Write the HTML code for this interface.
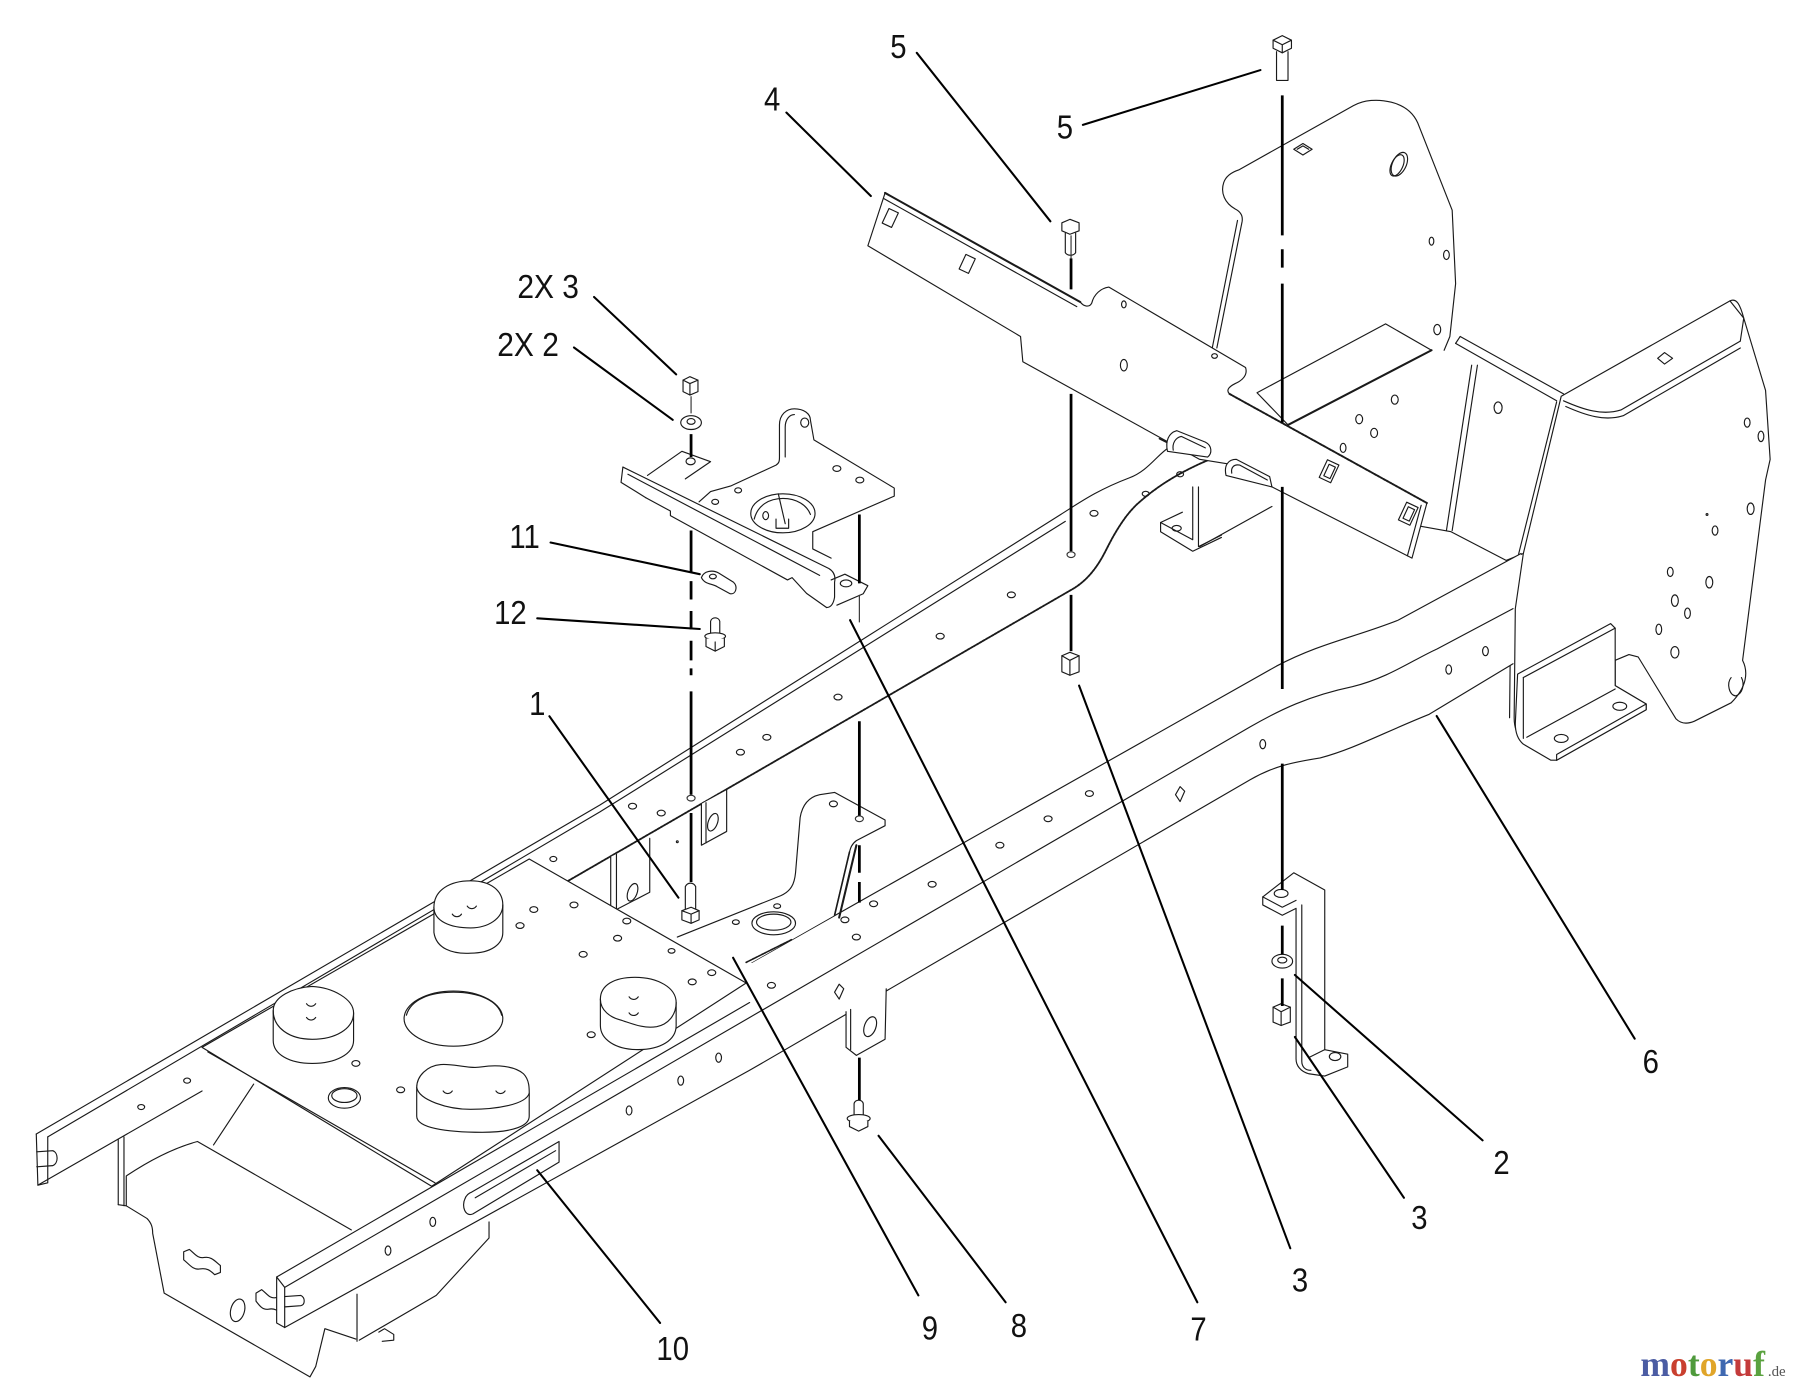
<!DOCTYPE html>
<html><head><meta charset="utf-8"><style>
html,body{margin:0;padding:0;background:#fff;}
svg{display:block;}
.lb{font-family:"Liberation Sans",Arial,sans-serif;font-size:29px;fill:#111;stroke:none;}
</style></head><body>
<svg width="1800" height="1393" viewBox="0 0 1568 1213" preserveAspectRatio="none" xmlns="http://www.w3.org/2000/svg">
<rect x="0" y="0" width="1568" height="1213" fill="#fff"/>
<g fill="none" stroke="#1a1a1a" stroke-width="1" stroke-linejoin="round" stroke-linecap="round">

<!-- back panel -->
<path fill="#fff" d="M1060,303 L1082,193 C1083,187 1080,184 1076,182 C1067,177 1063,168 1066,159 C1068,153 1073,150 1079,148 L1179,92 C1188,87 1200,86 1212,89 C1224,92 1231,98 1235,107 L1265,183 L1268,247 L1263,293 L1258,305 L1247,305 L1207,282 L1095,342 Z" stroke="none"/>
<path d="M1060,303 L1082,193 C1083,187 1080,184 1076,182 C1067,177 1063,168 1066,159 C1068,153 1073,150 1079,148 L1179,92 C1188,87 1200,86 1212,89 C1224,92 1231,98 1235,107 L1265,183 L1268,247 L1263,293 L1258,305"/>
<path d="M1056,303 L1078,192"/>
<path d="M1127,130 L1135,125 L1143,130 L1135,135 Z"/>
<path d="M1130,130 L1135,127 L1140,130"/>
<ellipse cx="1219" cy="143" rx="6" ry="11" transform="rotate(25 1219 143)"/>
<ellipse cx="1217" cy="144" rx="5" ry="10" transform="rotate(25 1217 144)"/>
<ellipse cx="1247" cy="210" rx="2" ry="3.5"/>
<ellipse cx="1260" cy="222" rx="2.5" ry="4"/>
<ellipse cx="1252" cy="287" rx="3" ry="4.5"/>

<!-- shelf -->
<path fill="#fff" d="M1207,282 L1247,305 L1122,370 L1095,342 Z"/>
<path d="M1247,305 L1122,370" stroke-width="1.8"/>
<ellipse cx="1215" cy="348" rx="3" ry="4"/>
<ellipse cx="1184" cy="365" rx="3" ry="4"/>
<ellipse cx="1197" cy="377" rx="3" ry="4"/>

<!-- middle plate -->
<path fill="#fff" d="M1272,293 L1362,343 L1358,350 L1288,318 L1266,462 L1260,462 L1282,318 L1268,299 Z" stroke="none"/>
<path d="M1272,293 L1362,343"/>
<path d="M1268,299 L1356,349"/>
<path d="M1272,293 L1268,299"/>
<path d="M1287,318 L1265,462"/>
<path d="M1282,318 L1260,462"/>
<ellipse cx="1305" cy="355" rx="3.5" ry="5"/>

<!-- right panel (6) -->
<path fill="#fff" d="M1360,345 L1507,262 C1513,259 1516,266 1519,277 L1538,340 L1542,400 L1538,418 L1518,575 C1523,585 1522,598 1508,612 L1476,628 C1469,631 1464,630 1460,626 L1427,572 L1419,570 L1407,575 L1407,597 L1434,613 L1434,618 L1356,662 L1327,645 C1321,640 1319,632 1319,625 L1320,530 L1327,482 Z"/>
<path d="M1356,350 L1323,482 L1316,530 L1315,625"/>
<path d="M1507,262 L1519,277 L1516,297"/>
<path d="M1362,349 C1380,357 1396,362 1412,357 L1516,297"/>
<path d="M1364,354 C1382,362 1398,367 1414,362 L1516,303"/>
<path d="M1444,312 L1450,307 L1457,312 L1450,317 Z"/>
<ellipse cx="1522" cy="368" rx="2.5" ry="4"/>
<ellipse cx="1534" cy="380" rx="2.5" ry="4.5"/>
<ellipse cx="1525" cy="443" rx="3" ry="5"/>
<ellipse cx="1494" cy="462" rx="2.5" ry="4"/>
<circle cx="1487" cy="448" r="0.8"/>
<ellipse cx="1455" cy="498" rx="2.5" ry="4"/>
<ellipse cx="1489" cy="507" rx="3" ry="5"/>
<ellipse cx="1459" cy="523" rx="3" ry="5"/>
<ellipse cx="1470" cy="534" rx="2.5" ry="4.5"/>
<ellipse cx="1445" cy="548" rx="2.5" ry="4.5"/>
<ellipse cx="1459" cy="568" rx="3.5" ry="5"/>
<path d="M1508,590 C1504,595 1506,605 1512,606 C1518,604 1520,596 1517,590"/>

<!-- L bracket on right panel -->
<path fill="#fff" d="M1322,587 L1403,543 L1407,547 L1407,597 L1434,613 L1434,618 L1356,662 L1351,662 L1327,648 C1321,643 1320,636 1320,630 Z"/>
<path d="M1327,590 L1407,547"/>
<path d="M1327,590 L1327,643"/>
<path d="M1330,642 L1407,600"/>
<path d="M1356,662 L1356,657 L1434,613"/>
<ellipse cx="1411" cy="615" rx="6" ry="3.5"/>
<ellipse cx="1360" cy="643" rx="6" ry="3.5"/>

<!-- cross member lines -->
<path d="M1236,458 L1264,463 L1312,488 L1327,482"/>
<path d="M1045,476 L1108,441"/>

<!-- back rail -->
<path fill="#fff" d="M31.6,987.5 L522.6,701 L924,448 C940,438 955,427 984,416 C1000,410 1008,396 1019,389 L1054,400 C1030,410 1010,422 994,436 C984,444 974,458 964,478 C958,490 950,503 936,512 L495,767 L176,950 L33,1032 Z" stroke="none"/>
<path d="M31.6,987.5 L522.6,701 L924,448 C940,438 955,427 984,416 C1000,410 1008,396 1019,389"/>
<path d="M41.6,990 L522.6,707 L928,454"/>
<path d="M33,1032 L176,950"/>
<path d="M495,767 L936,512 C950,503 958,490 964,478 C974,458 984,444 994,436 C1010,422 1030,410 1054,400" stroke-width="1.6" stroke-dasharray="2 1"/>
<path d="M31.6,987.5 L33,1032 L41.6,1030 L41.6,990"/>
<path d="M32,1003 L46,1002 C51,1004 51,1013 46,1015 L32,1016"/>
<g>
<ellipse cx="123" cy="964" rx="3" ry="2.2"/><ellipse cx="163" cy="941" rx="3" ry="2.2"/>
<ellipse cx="482" cy="748" rx="3" ry="2.2"/><ellipse cx="551" cy="702" rx="3.5" ry="2.5"/>
<ellipse cx="576" cy="708" rx="3.5" ry="2.5"/><ellipse cx="645" cy="655" rx="3.5" ry="2.5"/>
<ellipse cx="668" cy="642" rx="3.5" ry="2.5"/><ellipse cx="730" cy="607" rx="3.5" ry="2.5"/>
<ellipse cx="819" cy="554" rx="3.5" ry="2.5"/><ellipse cx="881" cy="518" rx="3.5" ry="2.5"/>
<ellipse cx="953" cy="447" rx="3.5" ry="2.5"/><ellipse cx="998" cy="430" rx="3" ry="2.2"/>
<ellipse cx="1028" cy="413" rx="3" ry="2.2"/>
</g>

<!-- tabs under back rail -->
<path fill="#fff" d="M611,700 L611,736 L633,724 L633,688"/>
<path d="M615,699 L615,734"/>
<ellipse cx="621" cy="716" rx="4" ry="8" transform="rotate(20 621 716)"/>
<path fill="#fff" d="M532,746 L532,789 L537,792 L566,777 L566,730"/>
<path d="M537,744 L537,792"/>
<ellipse cx="551" cy="777" rx="4" ry="8" transform="rotate(20 551 777)"/>
<circle cx="590" cy="733" r="0.8"/>

<!-- left box -->
<path d="M103,992 L103,1049"/>
<path d="M108,990 L108,1050"/>
<path d="M110,1050 L110,1024 C128,1012 150,1000 172,994 L306,1071"/>
<path d="M103,1049 L110,1050 L128,1061 C132,1065 133,1069 133,1074 L143,1126 L270,1199 L275,1190 L283,1157 L310,1166"/>
<path d="M311,1127 L311,1168"/>
<path d="M313,1167 L380,1128 L426,1078 L426,1064"/>
<path d="M186,997 L221,944"/>
<path d="M160,1090 L165,1088 C170,1092 172,1096 178,1095 C184,1094 187,1098 192,1102 L192,1108 L187,1110 C183,1106 180,1104 174,1105 C168,1106 165,1101 160,1097 Z"/>
<path d="M223,1126 L228,1123 C233,1127 235,1131 240,1130 C245,1129 248,1133 251,1137 L251,1143 L246,1145 C242,1141 239,1139 234,1140 C229,1141 226,1137 223,1133 Z"/>
<ellipse cx="207" cy="1141" rx="6" ry="10" transform="rotate(15 207 1141)"/>
<path d="M330,1160 L335,1157 L343,1162 L343,1167 L333,1168"/>

<!-- front rail -->
<path fill="#fff" d="M241,1112 L376,1034 L653,878 L655,838 L1112,580 C1150,560 1180,555 1218,540 L1325,482 L1318,530 L1318,578 L1245,622 C1205,638 1180,652 1150,660 C1125,664 1110,667 1089,679 L248,1156 L241,1152 Z" stroke="none"/>
<path d="M241,1112 L653,873"/>
<path d="M248,1121 L653,886 L1089,633 C1115,618 1140,606 1178,598 C1210,590 1230,575 1252,565 L1318,530"/>
<path d="M248,1156 L653,932 L1089,679 C1110,667 1125,664 1150,660 C1180,652 1205,638 1245,622 L1318,578"/>
<path d="M655,838 L1112,580 C1150,560 1180,555 1218,540 L1325,482"/>
<path d="M241,1112 L241,1152 L248,1156 L248,1121 L241,1112"/>
<path d="M248,1129 L262,1128 C266,1130 266,1136 262,1137 L248,1138"/>
<path d="M411,1038 L487,994 L487,1012 L412,1057 C405,1060 402,1050 405,1044 C406,1041 408,1039 411,1038 Z"/>
<path d="M414,1043 L484,1002"/>
<g>
<ellipse cx="672" cy="858" rx="3.5" ry="2.5"/><ellipse cx="736" cy="801" rx="3.5" ry="2.5"/>
<ellipse cx="746" cy="816" rx="3.5" ry="2.5"/><ellipse cx="761" cy="787" rx="3.5" ry="2.5"/>
<ellipse cx="812" cy="770" rx="3.5" ry="2.5"/><ellipse cx="871" cy="736" rx="3.5" ry="2.5"/>
<ellipse cx="913" cy="713" rx="3.5" ry="2.5"/><ellipse cx="949" cy="691" rx="3.5" ry="2.5"/>
<ellipse cx="338" cy="1089" rx="2.5" ry="4"/><ellipse cx="377" cy="1064" rx="2.5" ry="4"/>
<ellipse cx="548" cy="967" rx="2.5" ry="4"/><ellipse cx="593" cy="941" rx="2.5" ry="4"/>
<ellipse cx="626" cy="921" rx="2.5" ry="4"/><ellipse cx="1100" cy="648" rx="2.5" ry="4"/>
<ellipse cx="1262" cy="583" rx="2.5" ry="4"/><ellipse cx="1294" cy="567" rx="2.5" ry="4"/>
<path d="M727,864 L731,857 L735,861 L731,870 Z"/>
<path d="M1024,692 L1028,685 L1032,689 L1028,698 Z"/>
</g>

<!-- plate 9 area (large plate) -->
<path fill="#fff" d="M176,912 L461,748 L650,856 L376,1033 Z"/>
<path d="M181,916 L379,1030"/>
<g>
<ellipse cx="465" cy="792" rx="3.5" ry="2.5"/><ellipse cx="500" cy="788" rx="3.5" ry="2.5"/>
<ellipse cx="508" cy="831" rx="3.5" ry="2.5"/><ellipse cx="538" cy="817" rx="3.5" ry="2.5"/>
<ellipse cx="546" cy="802" rx="3.5" ry="2.5"/><ellipse cx="603" cy="855" rx="3.5" ry="2.5"/>
<ellipse cx="620" cy="847" rx="3.5" ry="2.5"/><ellipse cx="310" cy="926" rx="3.5" ry="2.5"/>
<ellipse cx="349" cy="949" rx="3.5" ry="2.5"/><ellipse cx="515" cy="901" rx="3.5" ry="2.5"/>
<ellipse cx="453" cy="806" rx="3.5" ry="2.5"/><ellipse cx="585" cy="828" rx="3" ry="2"/>
</g>
<ellipse cx="395" cy="887" rx="43" ry="24"/>
<path d="M354,884 C358,870 375,864 395,864 C418,864 434,872 437,884"/>
<ellipse cx="300" cy="956" rx="14" ry="9"/>
<ellipse cx="300" cy="954" rx="11" ry="6"/>

<!-- bumpers -->
<path fill="#fff" d="M378,790 C378,775 392,767 410,767 C428,767 438,776 438,788 L438,812 C438,822 428,830 410,830 C394,831 380,826 378,812 Z"/>
<path d="M378,790 C378,802 392,808 410,808 C425,808 438,800 438,788"/>
<path d="M394,796 C396,799 400,799 402,796 M407,789 C409,792 413,792 415,789"/>
<path fill="#fff" d="M238,880 C238,868 255,860 272,859 C290,860 308,870 308,882 L308,906 C308,918 292,926 272,926 C252,926 238,918 238,906 Z"/>
<path d="M238,880 C238,895 252,905 272,905 C292,905 308,896 308,882"/>
<path d="M267,874 C269,877 273,877 275,874 M267,886 C269,889 273,889 275,886"/>
<path fill="#fff" d="M363,947 C363,937 372,928 384,927 C395,926 408,931 420,929 C432,927 448,928 456,935 C462,941 461,950 461,958 L461,972 C461,980 448,986 420,986 C388,986 363,982 363,972 Z"/>
<path d="M363,947 C365,958 390,966 410,966 C432,966 458,962 461,952"/>
<path d="M386,950 C388,953 392,953 394,950 M432,950 C434,953 438,953 440,950"/>
<path fill="#fff" d="M523,870 C523,858 535,851 553,851 C573,851 589,860 589,873 L589,893 C589,906 575,914 556,914 C536,914 523,905 523,893 Z"/>
<path d="M523,870 C523,880 532,886 540,888 C550,891 560,896 572,894 C582,892 589,884 589,873"/>
<path d="M548,868 C550,871 554,871 556,868 M548,882 C550,885 554,885 556,882"/>

<!-- mount plate (9) -->
<path fill="#fff" d="M590,816 L680,780 C689,776 692,770 693,760 L697,712 C699,700 705,694 714,692 L727,690 L771,714 L771,719 L746,732 C742,735 741,738 740,742 L727,797 L655,838 Z" stroke="none"/>
<path d="M590,816 L680,780 C689,776 692,770 693,760 L697,712 C699,700 705,694 714,692 L727,690 L771,714 L771,719 L746,732 C742,735 741,738 740,742 L727,797"/>
<path d="M746,736 L731,799" stroke-width="1.8"/>
<path d="M740,742 L727,797" stroke-width="1.4"/>
<ellipse cx="674" cy="804" rx="19" ry="10"/>
<ellipse cx="674" cy="803" rx="15" ry="7"/>
<ellipse cx="726" cy="700" rx="3.5" ry="2.5"/>
<ellipse cx="677" cy="789" rx="3" ry="2"/>
<ellipse cx="641" cy="803" rx="3" ry="2"/>
<path d="M650,838 L690,818" stroke-width="1.4" stroke-dasharray="2 1"/>

<!-- hanging tab under front rail -->
<path fill="#fff" d="M737,881 L737,912 L746,919 L771,905 L772,861"/>
<path d="M741,879 L741,914"/>
<ellipse cx="758" cy="894" rx="5" ry="9" transform="rotate(20 758 894)"/>

<!-- lower bracket (item near 2/3) -->
<path fill="#fff" d="M1100,781 L1127,760 L1154,775 L1154,914 L1174,918 L1174,929 L1154,937 L1140,935 C1133,933 1129,928 1129,922 L1129,791 L1117,797 L1100,788 Z"/>
<path d="M1100,781 L1117,790 L1129,784"/>
<path d="M1134,788 L1134,924 C1134,929 1137,932 1142,932"/>
<path d="M1154,914 L1140,921"/>
<ellipse cx="1116" cy="778" rx="6" ry="3.5"/>
<ellipse cx="1163" cy="920" rx="5" ry="3.5"/>

<!-- small L bracket under bar -->
<path d="M1039,424 L1039,470 L1011,455 L1011,463 L1039,480 L1064,468"/>
<path d="M1044,424 L1044,476 L1064,466"/>
<path d="M1011,455 L1030,446"/>
<ellipse cx="1025" cy="460" rx="4" ry="2.5"/>

<!-- bracket 4 -->
<path fill="#fff" d="M771,168 L941,263 C944,267 949,268 951,264 C953,256 959,251 966,250 L1085,320 C1087,326 1083,331 1076,334 C1070,337 1068,340 1071,343 L1243,438 L1230,486 L1108,424 C1104,416 1096,410 1086,406 L1070,404 L1045,400 L891,315 L889,293 L756,214 Z"/>
<path d="M771,168 L941,263" stroke-width="1.8"/>
<path d="M770,173 L938,267"/>
<path d="M1071,343 L1243,438" stroke-width="1.7" stroke-dasharray="2 1"/>
<path d="M1238,440 L1226,484"/>
<rect x="771" y="183" width="9" height="14" transform="rotate(25 776 190)"/>
<rect x="838" y="223" width="9" height="14" transform="rotate(25 843 230)"/>
<rect x="1152" y="402" width="11" height="17" transform="rotate(25 1158 411)"/>
<rect x="1155" y="405" width="6" height="11" transform="rotate(25 1158 411)"/>
<rect x="1221" y="439" width="11" height="17" transform="rotate(25 1227 448)"/>
<rect x="1224" y="442" width="6" height="11" transform="rotate(25 1227 448)"/>
<ellipse cx="979" cy="265" rx="2" ry="3"/>
<ellipse cx="979" cy="318" rx="3" ry="5"/>
<ellipse cx="1058" cy="310" rx="2.5" ry="2"/>
<ellipse cx="1170" cy="390" rx="2.5" ry="4"/>
<path d="M1010,382 L1018,386" stroke-width="1.4"/>

<!-- hooks -->
<path fill="#fff" d="M1017,393 C1015,384 1018,377 1025,375 L1050,385 C1056,388 1056,395 1052,398 Z"/>
<path d="M1022,392 C1021,386 1024,381 1029,380 L1050,390"/>
<path fill="#fff" d="M1068,414 C1066,405 1070,400 1077,400 L1106,415 L1108,424 Z"/>
<path d="M1073,412 C1072,407 1075,404 1080,405 L1104,418"/>

<!-- bracket 7 -->
<path fill="#fff" stroke="none" d="M541,407 L564,415 L594,393 L619,402 L619,428 L676,405 L679,370 C679,361 685,356 692,356 C700,356 706,360 706,366 L709,383 L779,425 L779,432 L708,463 L708,478 L727,490 L727,520 L720,529 L702,517 L686,505 L584,449 L563,433 L541,420 Z"/>
<path d="M542.6,406.7 L722,495 C727,498 728,502 727,507 L727,520 C726,526 724,529 720,529"/>
<path d="M547,413 L714,501"/>
<path d="M542.6,406.7 L541,420 L562.6,433.4"/>
<path d="M562.6,433.4 L584,445 L584,449 L686,505 L690,503 L702.6,516.7 L720,529"/>
<path d="M564,414 L594,393 L619,402 L597,417"/>
<ellipse cx="601.6" cy="401.7" rx="4" ry="3"/>
<path d="M609,437 L619,428 L637,423 L676,405 C679,403 679,401 679,398 L679,370 C679,361 685,356 692,356 C700,356 706,360 706,366 L709,383 L779,425 L779,432 L708,463 L708,478 L724,486"/>
<path d="M684,398 L684,372 C684,365 688,361 692,361"/>
<path d="M724,505 L736,500 L756,510 L752,517 L729,527"/>
<ellipse cx="737" cy="508" rx="5" ry="3"/>
<ellipse cx="682" cy="447" rx="28" ry="17"/>
<path d="M657,452 C660,440 670,434 682,434 C694,434 703,440 706,448"/>
<path d="M678,430 L684,456 M676,452 L676,460 L687,460 L687,452"/>
<ellipse cx="667" cy="449" rx="2.5" ry="3.5"/>
<ellipse cx="701" cy="368" rx="3.5" ry="4"/>
<ellipse cx="729" cy="408" rx="3.5" ry="2.5"/>
<ellipse cx="749" cy="418" rx="3.5" ry="2.5"/>
<ellipse cx="623" cy="437" rx="3" ry="2.2"/>
<ellipse cx="643" cy="427" rx="3" ry="2.2"/>

<!-- clip 11 -->
<path fill="#fff" d="M611,503 C613,497 621,496 626,499 L639,507 C643,511 641,518 636,517 L625,511 C620,508 614,509 611,503 Z"/>
<ellipse cx="621" cy="502" rx="3" ry="2"/>

<!-- fasteners -->
<path fill="#fff" d="M595,331 L601,328 L608,331 L608,341 L601,344 L595,341 Z"/>
<path d="M595,331 L601,334 L608,331 M601,334 L601,344"/>
<ellipse cx="602" cy="368" rx="9" ry="6" fill="#fff"/>
<ellipse cx="602" cy="367" rx="3.5" ry="2.5"/>
<path fill="#fff" d="M925,194 L932,191 L940,194 L940,201 L932,204 L925,201 Z"/>
<path d="M928,203 L928,220 C930,223 935,223 937,220 L937,203"/>
<path fill="#fff" d="M1109,35 L1117,31 L1125,35 L1125,42 L1117,46 L1109,42 Z"/>
<path d="M1109,35 L1117,39 L1125,35 M1117,39 L1117,46"/>
<path d="M1112,45 L1112,70 L1122,70 L1122,45"/>
<path fill="#fff" d="M925,571 L932,568 L940,571 L940,585 L932,588 L925,585 Z"/>
<path d="M925,571 L932,575 L940,571 M932,575 L932,588"/>
<ellipse cx="1117" cy="837" rx="9" ry="6" fill="#fff"/>
<ellipse cx="1117" cy="836" rx="4" ry="2.5"/>
<path fill="#fff" d="M1109,877 L1116,874 L1124,877 L1124,890 L1116,893 L1109,890 Z"/>
<path d="M1109,877 L1116,881 L1124,877 M1116,881 L1116,893"/>
<path fill="#fff" d="M597,792 L597,772 C599,768 604,768 606,772 L606,792"/>
<path fill="#fff" d="M594,793 L602,790 L609,793 L609,801 L602,804 L594,801 Z"/>
<path d="M594,793 L602,796 L609,793 M602,796 L602,804"/>
<path fill="#fff" d="M619,552 L619,541 C620,537 626,537 627,541 L627,552"/>
<ellipse cx="623" cy="554" rx="9" ry="3" fill="#fff"/>
<path fill="#fff" d="M615,556 L615,563 L623,567 L631,563 L631,556"/>
<path d="M623,559 L623,567"/>
<path fill="#fff" d="M744,972 L744,961 C745,957 751,957 752,961 L752,972"/>
<ellipse cx="748" cy="974" rx="10" ry="3.5" fill="#fff"/>
<path fill="#fff" d="M740,976 L740,981 L748,985 L756,981 L756,976"/>
</g>

<!-- center lines -->
<g stroke="#000" stroke-width="2.4" fill="none">
<path d="M1117,83 L1117,205 M1117,217 L1117,233 M1117,247 L1117,368 M1117,424 L1117,600 M1117,665 L1117,775 M1117,806 L1117,831 M1117,852 L1117,876"/>
<path d="M933,225 L933,252 M933,343 L933,480 M933,518 L933,567"/>
<path d="M602,378 L602,398 M602,462 L602,498 M602,506 L602,522 M602,532 L602,548 M602,558 L602,575 M602,582 L602,588 M602,602 L602,692 M602,708 L602,768"/>
<path d="M748.6,448 L748.6,508 M748.6,628 L748.6,711 M748.6,736 L748.6,760 M748.6,768 L748.6,786 M748.6,921 L748.6,958"/>
</g>
<g stroke="#333" stroke-width="1" fill="none">
<path d="M602,345 L602,360 M748.6,518 L748.6,542 M933,205 L933,225"/>
<ellipse cx="933" cy="483" rx="3.5" ry="2.5"/>
<ellipse cx="602" cy="695" rx="3.5" ry="2.5"/>
<ellipse cx="748.6" cy="713" rx="3.5" ry="2.5"/>
</g>

<!-- leaders -->
<g stroke="#000" stroke-width="1.8" fill="none" stroke-linecap="round">
<path d="M798.6,46 L915,192.7"/>
<path d="M943.3,108.7 L1098,61"/>
<path d="M685,98 L758.6,170.7"/>
<path d="M517.5,258.6 L589,326"/>
<path d="M500,302.6 L586,365.6"/>
<path d="M479.6,472.4 L609.6,500"/>
<path d="M468,538.4 L609.6,547.7"/>
<path d="M478.6,623.7 L591,781.7"/>
<path d="M468,1019 L575,1152"/>
<path d="M638.6,834 L800,1128"/>
<path d="M765.3,989 L876,1134"/>
<path d="M740.5,540 L1043,1134"/>
<path d="M940,597 L1124,1087"/>
<path d="M1128,903 L1223,1043"/>
<path d="M1128,849 L1291.5,993"/>
<path d="M1251.5,623.5 L1424,904.5"/>
</g>

<!-- labels -->
<g class="lb" text-anchor="middle">
<text class="lb" transform="translate(782.6,50.4) scale(0.88,1)">5</text>
<text class="lb" transform="translate(927.6,120.4) scale(0.88,1)">5</text>
<text class="lb" transform="translate(672.6,96.4) scale(0.88,1)">4</text>
<text class="lb" transform="translate(477.5,259.4) scale(0.9,1)">2X 3</text>
<text class="lb" transform="translate(460,309.9) scale(0.9,1)">2X 2</text>
<text class="lb" transform="translate(457,477.4) scale(0.88,1)">11</text>
<text class="lb" transform="translate(444.6,543.4) scale(0.88,1)">12</text>
<text class="lb" transform="translate(468,622.4) scale(0.88,1)">1</text>
<text class="lb" transform="translate(586,1184.4) scale(0.88,1)">10</text>
<text class="lb" transform="translate(810,1166.4) scale(0.88,1)">9</text>
<text class="lb" transform="translate(887.6,1164.4) scale(0.88,1)">8</text>
<text class="lb" transform="translate(1044,1167.4) scale(0.88,1)">7</text>
<text class="lb" transform="translate(1132.5,1124.4) scale(0.88,1)">3</text>
<text class="lb" transform="translate(1236.5,1070.4) scale(0.88,1)">3</text>
<text class="lb" transform="translate(1308,1022.4) scale(0.88,1)">2</text>
<text class="lb" transform="translate(1438,934.4) scale(0.88,1)">6</text>
</g>

<!-- logo -->
<text x="1429" y="1198" font-family="'Liberation Serif',serif" font-size="31" font-weight="bold"><tspan fill="#4b5ca3">m</tspan><tspan fill="#c9402f">o</tspan><tspan fill="#4f9a3c">t</tspan><tspan fill="#e0a52a">o</tspan><tspan fill="#3f68b0">r</tspan><tspan fill="#c43b3b">u</tspan><tspan fill="#5aa23f">f</tspan></text>
<text x="1540" y="1198" font-family="'Liberation Serif',serif" font-size="13" fill="#555">.de</text>
</svg>
</body></html>
